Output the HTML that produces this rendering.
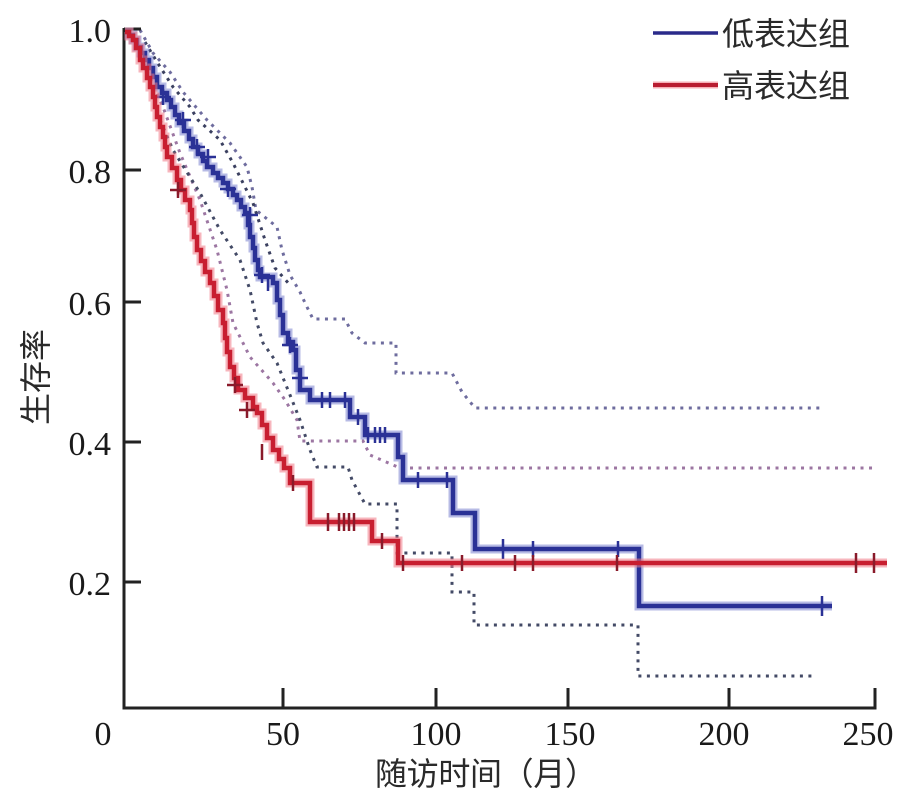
<!DOCTYPE html>
<html><head><meta charset="utf-8"><style>
html,body{margin:0;padding:0;background:#fff;}
svg{display:block;}
.num{font-family:"Liberation Serif",serif;font-size:34px;fill:#1a1a1a;}
.cjk{font-family:"Liberation Sans","Noto Sans CJK SC",sans-serif;font-size:31px;fill:#2a2a2a;}
</style></head><body>
<svg width="908" height="797" viewBox="0 0 908 797" xmlns="http://www.w3.org/2000/svg">
<rect width="908" height="797" fill="#fff"/>
<!-- dotted CI lines -->
<g fill="none" stroke-width="3" stroke-dasharray="3 5.5">
<polyline stroke="#6e6c9e" points="140,30 153,53 170,72 183,92 207,120 230,143 247,167 252,187 256,210 277,227 282,250 290,275 300,292 306,305 313,319 345,319 352,333 365,343 396,343 396,373 452,373 462,392 475,408 820,408"/>
<polyline stroke="#3b4060" points="145,42 157,62 173,87 190,107 198,120 220,140 233,163 253,203 265,240 275,268 290,285"/>
<polyline stroke="#9c76a2" points="140,55 163,107 180,153 200,200 217,250 227,290 233,323 250,357 273,383 285,400 297,420 300,441 363,441 370,455 400,468 873,468"/>
<polyline stroke="#434a66" points="160,120 173,150 200,193 220,230 240,260 250,290 257,323 263,343 277,363 290,395 300,420 310,450 317,467 348,467 352,480 365,504 397,504 397,553 452,553 452,592 474,592 474,625 638,625 638,676 813,676"/>
</g>
<!-- axes -->
<g stroke="#222" stroke-width="3" fill="none">
<path d="M124 28 V708 H875 V688"/>
<path d="M124 29 H141 M124 170 H141 M124 302 H141 M124 442 H141 M124 582 H141"/>
<path d="M283 707 V688 M436 707 V688 M568 707 V688 M729 707 V688"/>
</g>
<!-- blue curve -->
<path fill="none" stroke="#7c84d0" stroke-opacity="0.55" stroke-width="9" d="M125 32 H129 V35 H133 V40 H137 V47 H141 V53 H145 V60 H149 V68 H153 V77 H157 V87 H162 V93 H167 V100 H171 V107 H175 V115 H179 V123 H184 V131 H189 V139 H193 V147 H198 V154 H203 V161 H207 V167 H213 V173 H218 V178 H223 V183 H228 V189 H233 V195 H237 V200 H241 V207 H245 V213 H248 V225 H250 V237 H253 V248 H255 V260 H258 V270 H260 V277 H273 V283 H277 V300 H280 V315 H283 V333 H288 V342 H293 V350 H296 V370 H300 V390 H310 V400 H350 V417 H365 V435 H398 V457 H403 V480 H453 V513 H475 V549 H639 V606 H832"/>
<path fill="none" stroke="#2a3196" stroke-width="4.5" d="M125 32 H129 V35 H133 V40 H137 V47 H141 V53 H145 V60 H149 V68 H153 V77 H157 V87 H162 V93 H167 V100 H171 V107 H175 V115 H179 V123 H184 V131 H189 V139 H193 V147 H198 V154 H203 V161 H207 V167 H213 V173 H218 V178 H223 V183 H228 V189 H233 V195 H237 V200 H241 V207 H245 V213 H248 V225 H250 V237 H253 V248 H255 V260 H258 V270 H260 V277 H273 V283 H277 V300 H280 V315 H283 V333 H288 V342 H293 V350 H296 V370 H300 V390 H310 V400 H350 V417 H365 V435 H398 V457 H403 V480 H453 V513 H475 V549 H639 V606 H832"/>
<!-- blue censor marks -->
<g stroke="#2a3196" stroke-width="2.5" fill="none">
<path d="M163 89 V105 M155 97 H171 M183 112 V128 M175 120 H191 M197 139 V155 M189 147 H205 M208 149 V165 M200 157 H216 M228 181 V197 M220 189 H236 M250 207 V223 M242 215 H258 M262 267 V283 M254 275 H270 M268 275 V291 M290 337 V353 M282 345 H298 M300 370 V386 M292 378 H308"/>
<path d="M322 392 V408 M330 392 V408 M345 392 V408 M358 409 V425 M368 427 V443 M375 427 V443 M380 427 V443 M385 427 V443 M418 472 V488 M447 472 V488 M503 539 V559 M533 541 V557 M618 541 V557 M822 596 V616"/>
</g>
<!-- red curve -->
<path fill="none" stroke="#f07a86" stroke-opacity="0.55" stroke-width="9" d="M125 32 H129 V36 H133 V40 H136 V48 H140 V60 H143 V68 H147 V78 H150 V87 H153 V97 H155 V107 H157 V117 H160 V127 H163 V137 H165 V147 H167 V157 H172 V168 H177 V180 H181 V190 H185 V200 H190 V210 H192 V223 H194 V237 H197 V250 H201 V261 H205 V272 H210 V283 H214 V296 H218 V310 H223 V323 H225 V338 H227 V352 H230 V367 H234 V378 H238 V390 H245 V398 H253 V407 H257 V413 H262 V425 H267 V438 H273 V450 H279 V459 H284 V468 H290 V483 H310 V522 H372 V541 H398 V563 H887"/>
<path fill="none" stroke="#c81e30" stroke-width="4.5" d="M125 32 H129 V36 H133 V40 H136 V48 H140 V60 H143 V68 H147 V78 H150 V87 H153 V97 H155 V107 H157 V117 H160 V127 H163 V137 H165 V147 H167 V157 H172 V168 H177 V180 H181 V190 H185 V200 H190 V210 H192 V223 H194 V237 H197 V250 H201 V261 H205 V272 H210 V283 H214 V296 H218 V310 H223 V323 H225 V338 H227 V352 H230 V367 H234 V378 H238 V390 H245 V398 H253 V407 H257 V413 H262 V425 H267 V438 H273 V450 H279 V459 H284 V468 H290 V483 H310 V522 H372 V541 H398 V563 H887"/>
<!-- red censor marks -->
<g stroke="#8a1a2a" stroke-width="2.5" fill="none">
<path d="M178 182 V198 M170 190 H186 M235 377 V393 M227 385 H243 M247 402 V418 M239 410 H255 M262 444 V460 M293 475 V491"/>
<path d="M328 513 V531 M339 513 V531 M344 513 V531 M349 513 V531 M354 513 V531 M382 533 V549 M403 555 V571 M462 555 V571 M515 555 V571 M533 555 V571 M617 555 V571 M856 553 V573 M874 553 V573"/>
</g>
<!-- tick labels -->
<g class="num" text-anchor="end">
<text x="111" y="42">1.0</text>
<text x="111" y="183">0.8</text>
<text x="111" y="315">0.6</text>
<text x="111" y="455">0.4</text>
<text x="111" y="595">0.2</text>
</g>
<g class="num" text-anchor="middle">
<text x="103" y="745">0</text>
<text x="283" y="745">50</text>
<text x="436" y="745">100</text>
<text x="570" y="745">150</text>
<text x="724" y="745">200</text>
<text x="868" y="745">250</text>
</g>
<!-- axis titles -->
<text class="cjk" x="375" y="785" textLength="222" lengthAdjust="spacing" style="font-size:32px">随访时间（月）</text>
<text class="cjk" transform="translate(47,377) rotate(-90)" text-anchor="middle" style="font-size:32px">生存率</text>
<!-- legend -->
<line x1="653" y1="33" x2="718" y2="33" stroke="#2a2a8a" stroke-width="3.5"/>
<line x1="653" y1="85" x2="718" y2="85" stroke="#f07a86" stroke-opacity="0.6" stroke-width="7"/>
<line x1="653" y1="85" x2="718" y2="85" stroke="#b81c30" stroke-width="4"/>
<text class="cjk" x="722" y="45" style="font-size:32px">低表达组</text>
<text class="cjk" x="722" y="97" style="font-size:32px">高表达组</text>
</svg>
</body></html>
